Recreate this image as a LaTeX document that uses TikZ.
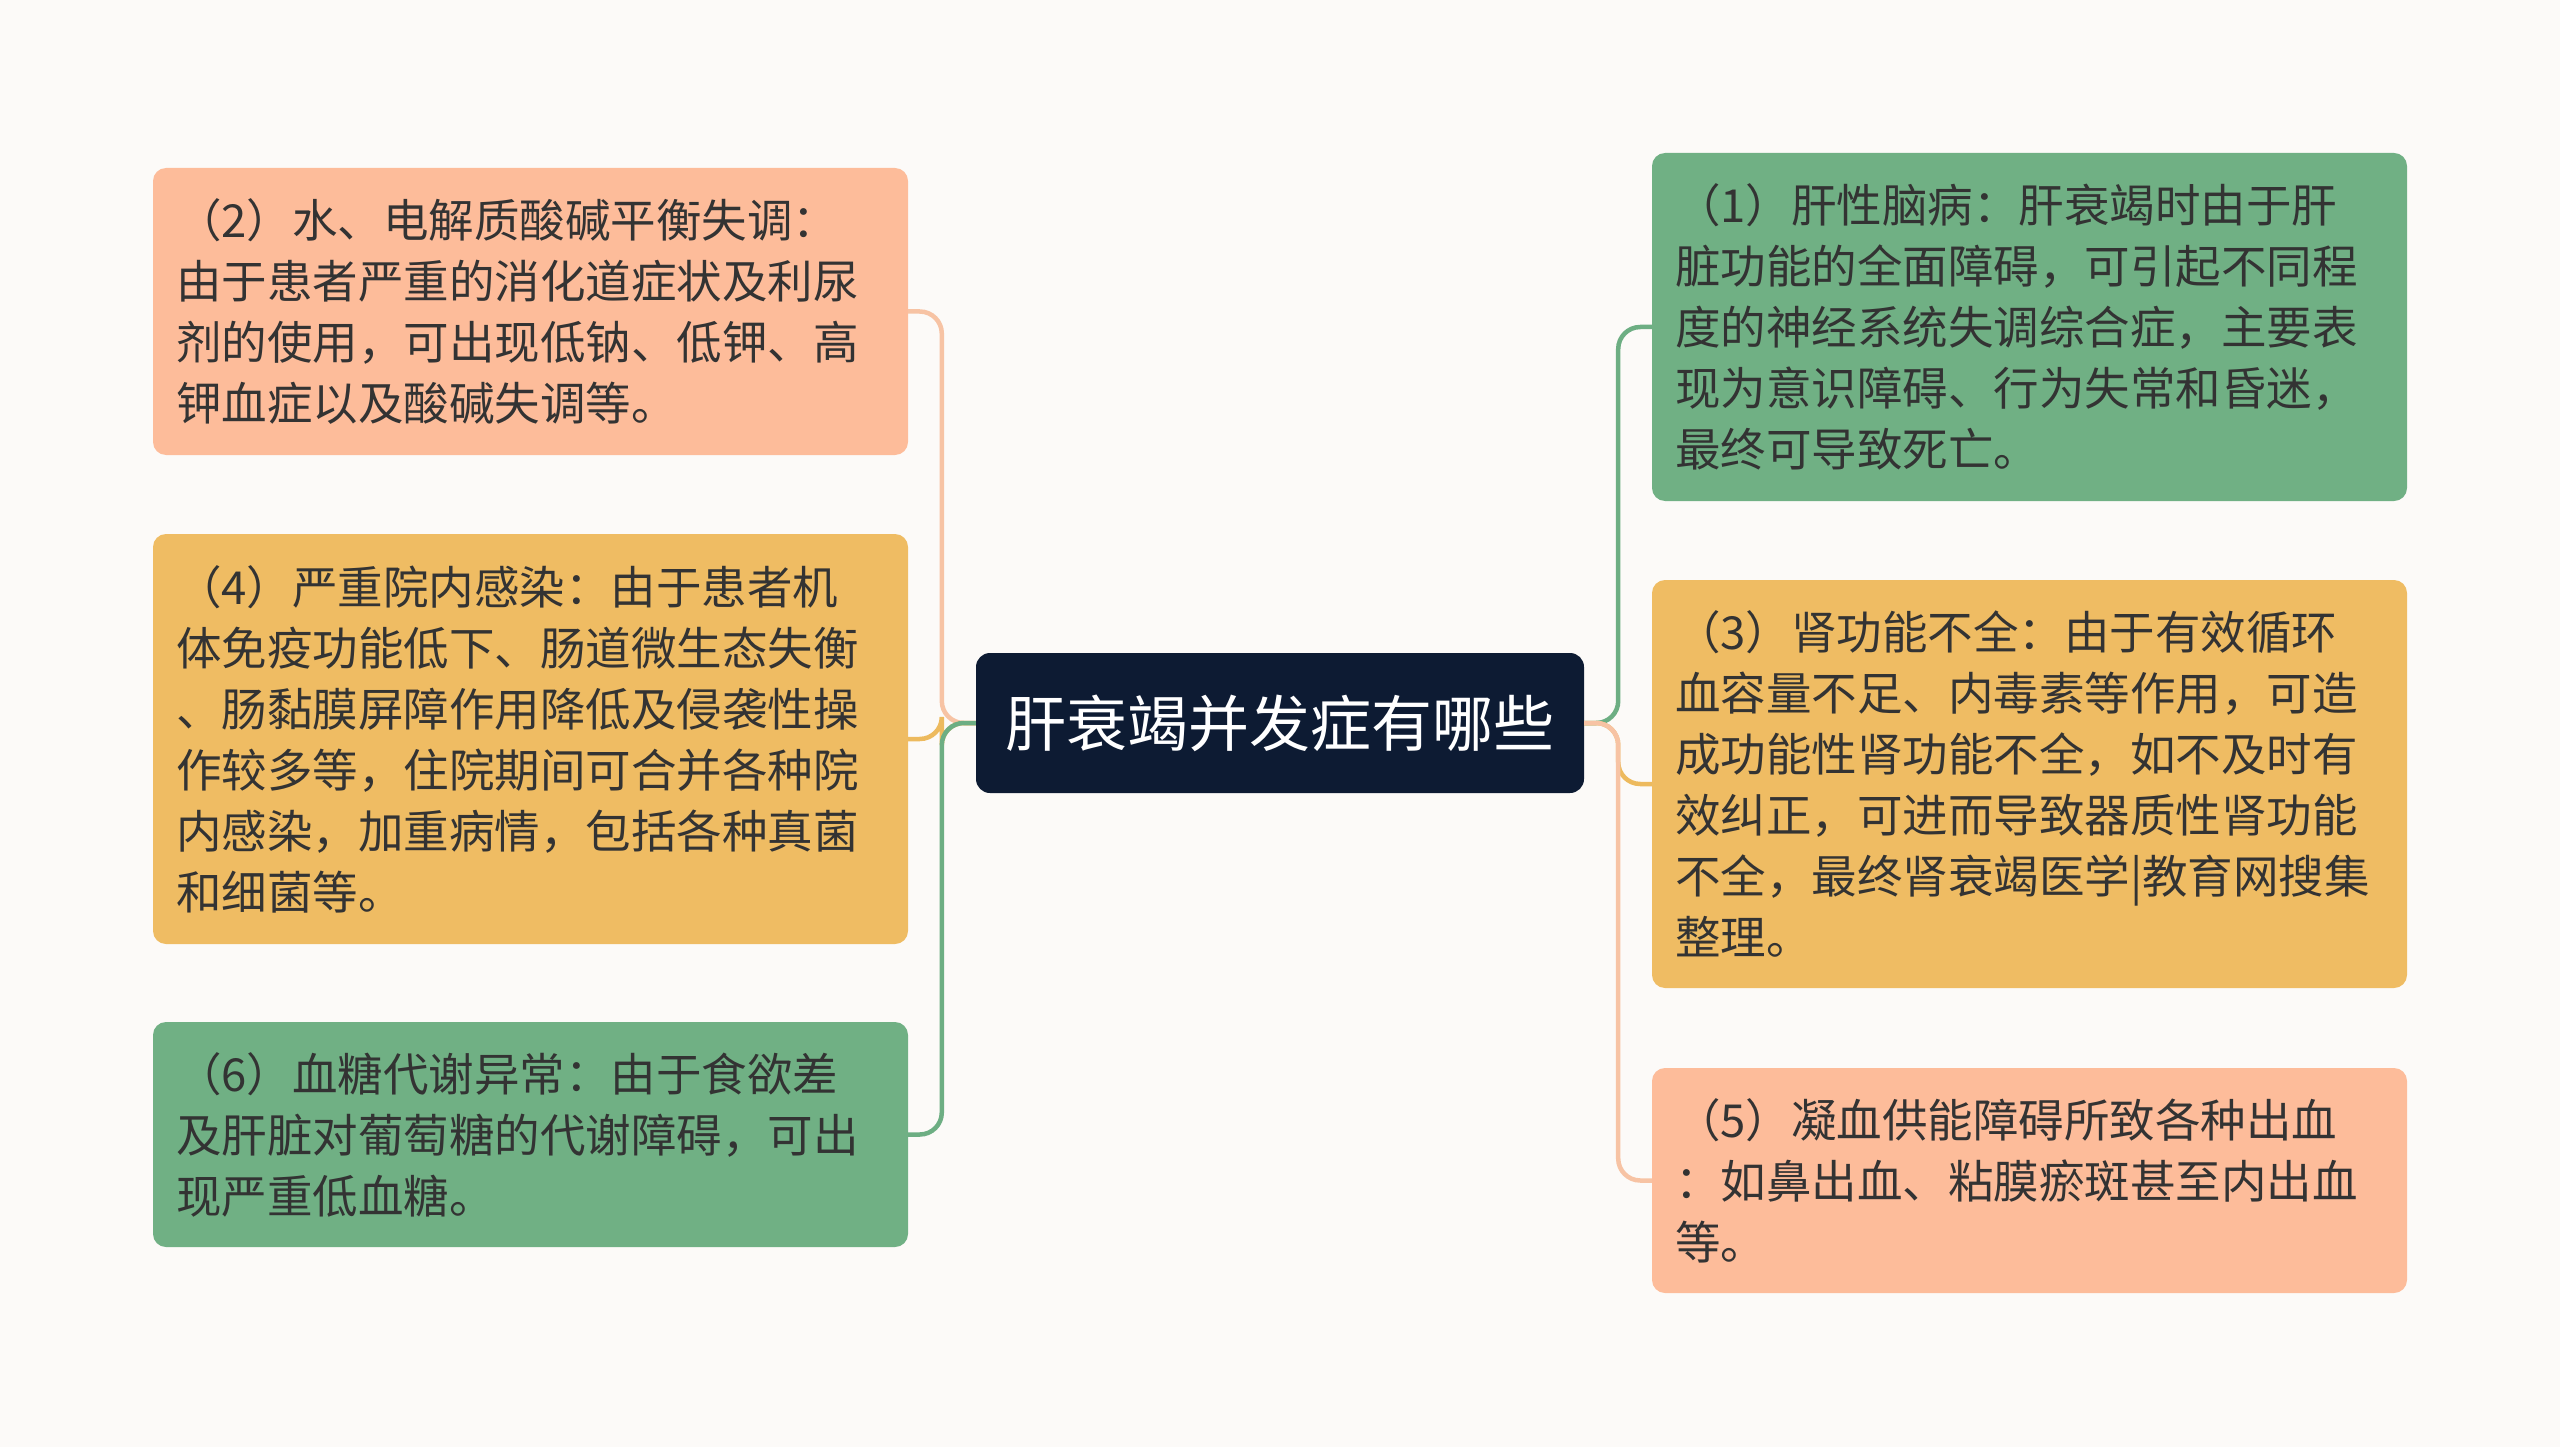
\documentclass[tikz,border=0pt]{standalone}
\usepackage{fontspec}
\setmainfont{Noto Sans CJK SC}
\newfontfamily\cjk{Noto Sans CJK SC}
\definecolor{bgc}{HTML}{FCFAF8}
\definecolor{peach}{HTML}{FDBC9A}
\definecolor{amber}{HTML}{EFBC63}
\definecolor{sage}{HTML}{70B084}
\definecolor{navy}{HTML}{0D1B33}
\definecolor{ink}{HTML}{333333}
\definecolor{peachln}{HTML}{F7C3A4}
\definecolor{amberln}{HTML}{EDBA5E}
\definecolor{sageln}{HTML}{6DAE83}
\tikzset{
  leaf/.style={rounded corners=13pt, inner xsep=23pt, inner ysep=0pt,
    minimum width=755pt, text width=709pt, align=left, text=ink,
    font=\cjk\fontsize{45.5}{61}\selectfont},
  root/.style={fill=navy, rounded corners=14pt, minimum width=608pt, minimum height=140pt,
    text=white, font=\cjk\fontsize{61}{72}\selectfont},
  link/.style={line width=4.5pt, rounded corners=22pt},
}
\begin{document}
\begin{tikzpicture}[x=1pt,y=-1pt]
\fill[bgc] (0,0) rectangle (2560,1447);
\useasboundingbox (0,0) rectangle (2560,1447);

\node[root] (ctr) at (1280,723) {肝衰竭并发症有哪些};

\node[leaf, fill=peach, minimum height=287pt] (b2) at (530.5,311.5) {%
（2）水、电解质酸碱平衡失调：\\由于患者严重的消化道症状及利尿\\剂的使用，可出现低钠、低钾、高\\钾血症以及酸碱失调等。};

\node[leaf, fill=amber, minimum height=410pt] (b4) at (530.5,739) {%
（4）严重院内感染：由于患者机\\体免疫功能低下、肠道微生态失衡\\、肠黏膜屏障作用降低及侵袭性操\\作较多等，住院期间可合并各种院\\内感染，加重病情，包括各种真菌\\和细菌等。};

\node[leaf, fill=sage, minimum height=225pt] (b6) at (530.5,1134.5) {%
（6）血糖代谢异常：由于食欲差\\及肝脏对葡萄糖的代谢障碍，可出\\现严重低血糖。};

\node[leaf, fill=sage, minimum height=348pt] (b1) at (2029.5,327) {%
（1）肝性脑病：肝衰竭时由于肝\\脏功能的全面障碍，可引起不同程\\度的神经系统失调综合症，主要表\\现为意识障碍、行为失常和昏迷，\\最终可导致死亡。};

\node[leaf, fill=amber, minimum height=408pt] (b3) at (2029.5,784) {%
（3）肾功能不全：由于有效循环\\血容量不足、内毒素等作用，可造\\成功能性肾功能不全，如不及时有\\效纠正，可进而导致器质性肾功能\\不全，最终肾衰竭医学|教育网搜集\\整理。};

\node[leaf, fill=peach, minimum height=225pt] (b5) at (2029.5,1180.5) {%
（5）凝血供能障碍所致各种出血\\：如鼻出血、粘膜瘀斑甚至内出血\\等。};

% left connectors
\draw[link, peachln] (ctr.west) -- ++(-34,0) |- (b2.east);
\draw[link, amberln] (ctr.west) -- ++(-34,0) |- (b4.east);
\draw[link, sageln] (ctr.west) -- ++(-34,0) |- (b6.east);
% right connectors
\draw[link, sageln] (ctr.east) -- ++(34,0) |- (b1.west);
\draw[link, amberln] (ctr.east) -- ++(34,0) |- (b3.west);
\draw[link, peachln] (ctr.east) -- ++(34,0) |- (b5.west);
\end{tikzpicture}
\end{document}
